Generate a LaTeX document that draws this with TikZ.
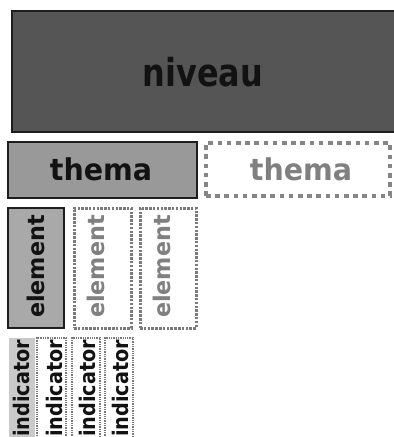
\documentclass[tikz,border=0pt]{standalone}
\usepackage{fontspec}
\setmainfont{DejaVu Sans}
\newfontfamily\fniv{DejaVu Sans}[FakeStretch=0.83]
\newfontfamily\fthe{DejaVu Sans}[FakeStretch=0.95]
\newfontfamily\fele{DejaVu Sans}[FakeStretch=0.97]
\newfontfamily\find{DejaVu Sans}[FakeStretch=0.895]
\definecolor{nivfill}{HTML}{555555}
\definecolor{themafill}{HTML}{999999}
\definecolor{elemfill}{HTML}{A9A9A9}
\definecolor{indfill}{HTML}{CACACA}
\definecolor{edge}{HTML}{1E1E1E}
\definecolor{ghost}{HTML}{858585}
\definecolor{ghostdot}{HTML}{7A7A7A}
\definecolor{ghosttext}{HTML}{808080}
\tikzset{
  boxbase/.style={inner sep=0pt, outer sep=0pt, anchor=north west},
  solidbox/.style={boxbase, draw=edge, line width=1.8pt},
  themadash/.style={boxbase, draw=ghost, line width=3.3pt, dash pattern=on 4.6pt off 4.6pt},
  elemdash/.style={boxbase, draw=ghostdot, line width=3pt, dash pattern=on 2.5pt off 1.3pt},
  inddash/.style={boxbase, draw=ghostdot, line width=1.9pt, dash pattern=on 1.3pt off 1pt},
  txt/.style={inner sep=0pt, outer sep=0pt, text=black!93},
  gtxt/.style={inner sep=0pt, outer sep=0pt, text=ghosttext},
}
\begin{document}
\begin{tikzpicture}[x=1pt, y=-1pt]
\useasboundingbox (0,0) rectangle (394,437);
\clip (0,0) rectangle (394,437);
% niveau
\node[solidbox, fill=nivfill, minimum width=392pt, minimum height=121pt] (niv) at (12,11) {};
\node[txt] (nivt) at (203,72.5) {\fniv\bfseries\fontsize{38.5}{40}\selectfont niveau};
% thema
\node[solidbox, fill=themafill, minimum width=189pt, minimum height=56pt] (th1) at (8,142) {};
\node[txt] (th1t) at (101,169) {\fthe\bfseries\fontsize{30}{32}\selectfont thema};
\node[themadash, minimum width=184pt, minimum height=53pt] (th2) at (206,143) {};
\node[gtxt] (th2t) at (301,169) {\fthe\bfseries\fontsize{30}{32}\selectfont thema};
% elements
\node[solidbox, fill=elemfill, minimum width=56pt, minimum height=120pt] (el1) at (8,208) {};
\node[txt, rotate=90] (el1t) at (35.5,266.5) {\fele\bfseries\fontsize{23}{25}\selectfont element};
\node[elemdash, minimum width=57pt, minimum height=120pt] (el2) at (74,208) {};
\node[gtxt, rotate=90] (el2t) at (96,266.5) {\fele\bfseries\fontsize{23}{25}\selectfont element};
\node[elemdash, minimum width=56pt, minimum height=120pt] (el3) at (140,208) {};
\node[gtxt, rotate=90] (el3t) at (162,266.5) {\fele\bfseries\fontsize{23}{25}\selectfont element};
% indicators
\node[boxbase, fill=indfill, minimum width=26pt, minimum height=110pt] (in1) at (9,338) {};
\node[txt, rotate=90] (in1t) at (21.5,388.5) {\find\bfseries\fontsize{21.5}{23}\selectfont indicator};
\node[inddash, minimum width=29pt, minimum height=110pt] (in2) at (37,338) {};
\node[txt, rotate=90] (in2t) at (54.5,388.5) {\find\bfseries\fontsize{21.5}{23}\selectfont indicator};
\node[inddash, minimum width=28pt, minimum height=110pt] (in3) at (72,338) {};
\node[txt, rotate=90] (in3t) at (87.5,388.5) {\find\bfseries\fontsize{21.5}{23}\selectfont indicator};
\node[inddash, minimum width=28pt, minimum height=110pt] (in4) at (105,338) {};
\node[txt, rotate=90] (in4t) at (120.5,388.5) {\find\bfseries\fontsize{21.5}{23}\selectfont indicator};
\end{tikzpicture}
\end{document}
